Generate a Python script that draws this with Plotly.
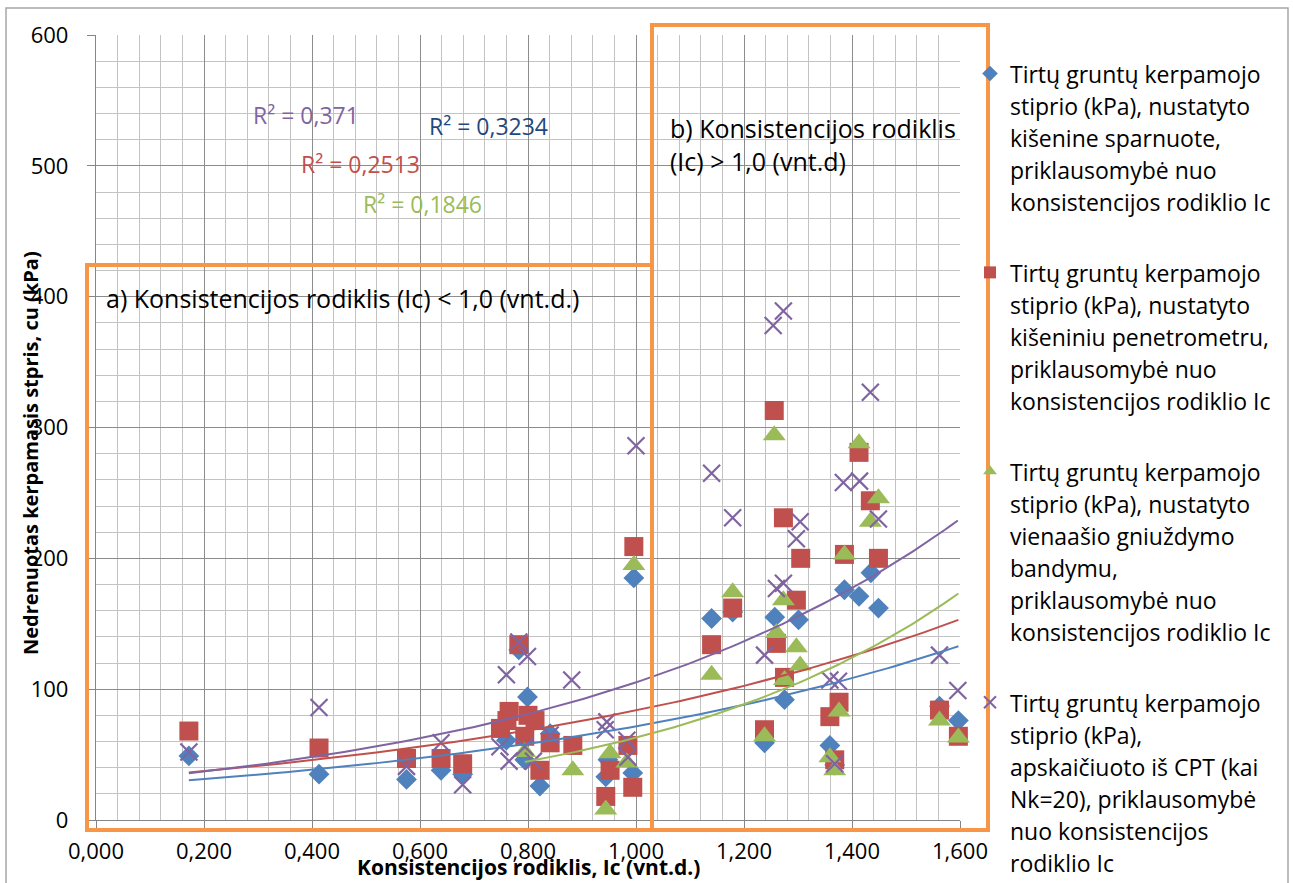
import numpy as np
import plotly.graph_objects as go

# ---------------- data ----------------
blue_x = [0.172, 0.413, 0.575, 0.639, 0.679, 0.760, 0.783, 0.794, 0.799, 0.822, 0.841, 0.944, 0.948, 0.994, 0.996,
          1.140, 1.179, 1.238, 1.257, 1.275, 1.301, 1.359, 1.368, 1.386, 1.413, 1.435, 1.449, 1.562, 1.597]
blue_y = [49, 35, 31, 38, 35, 61, 130, 46, 94, 26, 66, 33, 46, 36, 185,
          154, 159, 59, 155, 92, 153, 57, 42, 176, 171, 189, 162, 87, 76]

red_x = [0.172, 0.413, 0.575, 0.639, 0.679, 0.749, 0.761, 0.765, 0.783, 0.794, 0.800, 0.813, 0.822, 0.841, 0.883,
         0.944, 0.952, 0.985, 0.994, 0.996, 1.140, 1.179, 1.238, 1.256, 1.260, 1.273, 1.275, 1.297, 1.305,
         1.359, 1.368, 1.376, 1.386, 1.413, 1.434, 1.449, 1.562, 1.597]
red_y = [68, 55, 47, 47, 43, 70, 76, 83, 134, 64, 80, 76, 38, 59, 57,
         18, 38, 57, 25, 209, 134, 162, 69, 313, 135, 231, 109, 168, 200,
         79, 46, 90, 203, 281, 244, 200, 84, 64]

green_x = [0.794, 0.883, 0.944, 0.952, 0.983, 0.996, 1.140, 1.179, 1.238, 1.256, 1.260, 1.273, 1.275, 1.297,
           1.304, 1.359, 1.368, 1.376, 1.386, 1.413, 1.434, 1.449, 1.562, 1.597]
green_y = [52, 38, 8, 51, 44, 195, 111, 174, 64, 294, 143, 168, 107, 132,
           118, 48, 38, 83, 203, 288, 228, 246, 76, 63]

purple_x = [0.172, 0.413, 0.575, 0.639, 0.679, 0.748, 0.760, 0.765, 0.783, 0.794, 0.799, 0.810, 0.841, 0.881,
            0.943, 0.946, 0.983, 0.985, 1.000, 1.140, 1.179, 1.238, 1.254, 1.260, 1.273, 1.273, 1.297, 1.304,
            1.359, 1.368, 1.375, 1.384, 1.414, 1.434, 1.449, 1.562, 1.596]
purple_y = [52, 86, 41, 59, 27, 56, 111, 45, 136, 56, 125, 45, 65, 107,
            69, 75, 61, 48, 286, 265, 231, 126, 378, 177, 389, 181, 215, 228,
            107, 43, 106, 258, 259, 327, 230, 126, 99]

series_names = [
    "Tirtų gruntų kerpamojo<br>stiprio (kPa), nustatyto<br>kišenine sparnuote,<br>priklausomybė nuo<br>konsistencijos rodiklio Ic",
    "Tirtų gruntų kerpamojo<br>stiprio (kPa), nustatyto<br>kišeniniu penetrometru,<br>priklausomybė nuo<br>konsistencijos rodiklio Ic",
    "Tirtų gruntų kerpamojo<br>stiprio (kPa), nustatyto<br>vienaašio gniuždymo<br>bandymu,<br>priklausomybė nuo<br>konsistencijos rodiklio Ic",
    "Tirtų gruntų kerpamojo<br>stiprio (kPa),<br>apskaičiuoto iš CPT (kai<br>Nk=20), priklausomybė<br>nuo konsistencijos<br>rodiklio Ic",
]
r2_labels = ["R² = 0,3234", "R² = 0,2513", "R² = 0,1846", "R² = 0,371"]

x_title = "Konsistencijos rodiklis, Ic (vnt.d.)"
y_title = "Nedrenuotas kerpamasis stpris, cu (kPa)"
region_a = "a) Konsistencijos rodiklis (Ic) &lt; 1,0 (vnt.d.)"
region_b = ["b) Konsistencijos rodiklis", "(Ic) &gt; 1,0 (vnt.d)"]

# ---------------- styling ----------------
FONT = "Open Sans"
BLUE, RED, GREEN, PURPLE = "#4F81BD", "#C0504D", "#9BBB59", "#8064A2"
ORANGE = "#F79646"
LEG_TXT = 23

# plot area in pixels: x 96..960, y 35..820
PL, PR, PT, PB = 96, 960, 35, 820


def px_x(p):
    return (p - PL) / (PR - PL)


def px_y(p):
    return (PB - p) / (PB - PT)


def legend_text(s):
    span = f'<span style="font-size:{LEG_TXT}px">'
    return span + s.replace("<br>", "</span><br>" + span) + "</span>"


fig = go.Figure()

series = [
    (blue_x, blue_y, BLUE, dict(symbol="diamond", size=16, color=BLUE)),
    (red_x, red_y, RED, dict(symbol="square", size=19, color=RED)),
    (green_x, green_y, GREEN, dict(symbol="triangle-up", size=20, color=GREEN)),
    (purple_x, purple_y, PURPLE, dict(symbol="x-thin", size=17, color=PURPLE,
                                      line=dict(width=2.2, color=PURPLE))),
]

for i, (xs, ys, col, mk) in enumerate(series):
    fig.add_trace(go.Scatter(
        x=xs, y=ys, mode="markers", marker=mk, cliponaxis=False,
        name=legend_text(series_names[i]), legendgroup=f"g{i}",
    ))

# exponential trendlines (least squares on ln y, like Excel)
for i, (xs, ys, col, mk) in enumerate(series):
    xa = np.array(xs, float)
    ya = np.array(ys, float)
    b, lna = np.polyfit(xa, np.log(ya), 1)
    xt = np.linspace(xa.min(), xa.max(), 120)
    fig.add_trace(go.Scatter(
        x=xt, y=np.exp(lna) * np.exp(b * xt), mode="lines",
        line=dict(color=col, width=2), showlegend=False, hoverinfo="skip",
        legendgroup=f"g{i}",
    ))

shapes = [
    # outer chart border
    dict(type="rect", xref="paper", yref="paper", x0=px_x(6), x1=px_x(1288), y0=px_y(900), y1=px_y(8),
         line=dict(color="#A6A6A6", width=1.5), layer="below"),
    # region a
    dict(type="rect", xref="paper", yref="paper", x0=px_x(87), x1=px_x(652), y0=px_y(830), y1=px_y(265),
         line=dict(color=ORANGE, width=4)),
    # region b
    dict(type="rect", xref="paper", yref="paper", x0=px_x(652), x1=px_x(988), y0=px_y(830), y1=px_y(25),
         line=dict(color=ORANGE, width=4)),
]


def ann(text, xp, yp, color="black", size=21, xanchor="center", **kw):
    return dict(text=text, x=px_x(xp), y=px_y(yp), xref="paper", yref="paper", showarrow=False,
                xanchor=xanchor, yanchor="middle", font=dict(family=FONT, size=size, color=color), **kw)


annotations = [
    ann(r2_labels[3], 306, 115, PURPLE, 23),
    ann(r2_labels[0], 488, 126, "#1F497D", 23),
    ann(r2_labels[1], 360, 164, RED, 23),
    ann(r2_labels[2], 422, 204, GREEN, 23),
    ann(region_a, 104, 298, size=25, xanchor="left"),
    ann(region_b[0], 668, 128, size=25, xanchor="left"),
    ann(region_b[1], 668, 161, size=25, xanchor="left"),
    ann("<b>" + x_title + "</b>", 528, 867, size=21),
    ann("<b>" + y_title + "</b>", 30, 453, size=20, textangle=-90),
]

axis_common = dict(
    showline=True, linecolor="#868686", linewidth=1.3, mirror=False,
    ticks="outside", ticklen=8, tickcolor="#868686", tickwidth=1.3,
    showgrid=True, gridcolor="#8C8C8C", gridwidth=1.3, zeroline=False,
    tickfont=dict(family=FONT, size=22, color="black"),
)

fig.update_layout(
    width=1293, height=883,
    margin=dict(l=PL, r=1293 - PR, t=PT, b=883 - PB, autoexpand=False),
    paper_bgcolor="white", plot_bgcolor="white",
    separators=",.",
    font=dict(family=FONT, color="black"),
    xaxis=dict(range=[0, 1.6], tick0=0, dtick=0.2, tickformat=".3f", ticklabelstandoff=3,
               minor=dict(dtick=0.04, showgrid=True, gridcolor="#C3C3C3", gridwidth=1.3, ticks=""),
               **axis_common),
    yaxis=dict(range=[0, 600], tick0=0, dtick=100, ticklabelstandoff=14,
               minor=dict(dtick=20, showgrid=True, gridcolor="#C3C3C3", gridwidth=1.3, ticks=""),
               **axis_common),
    showlegend=True,
    legend=dict(x=px_x(970), xanchor="left", y=1 - 51 / 883, yanchor="top", yref="container",
                font=dict(family=FONT, size=24.6, color="black"), valign="top",
                tracegroupgap=36, bgcolor="rgba(0,0,0,0)", itemsizing="constant",
                maxheight=880),
    shapes=shapes,
    annotations=annotations,
)

fig.write_html("out.html")
